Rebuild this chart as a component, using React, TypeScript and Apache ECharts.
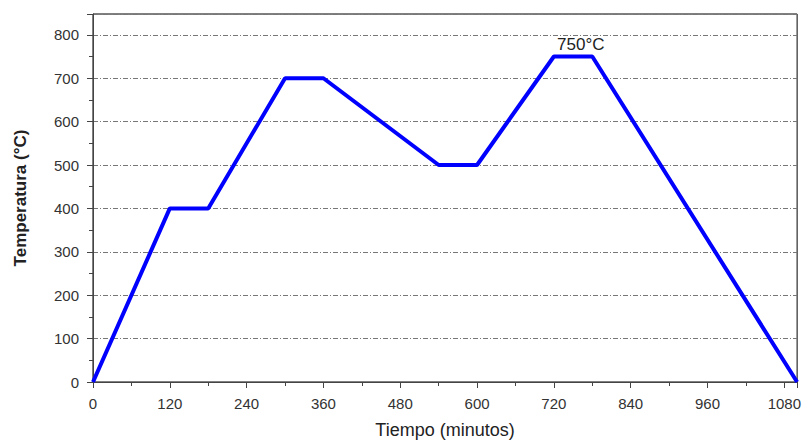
import React, { useEffect, useRef } from "react";
import * as echarts from "echarts";

const timeMinutes = [0, 120, 180, 300, 360, 540, 600, 720, 780, 1100];
const temperatures = [0, 400, 400, 700, 700, 500, 500, 750, 750, 0];
const peakLabel = "750°C";
const peakCoord = [762, 750];

export default function App() {
  const ref = useRef<HTMLDivElement>(null);
  useEffect(() => {
    const chart = echarts.init(ref.current!, null, { renderer: "svg" });
    const font = "'Liberation Sans', Arial, sans-serif";
    chart.setOption({
      animation: false,
      grid: {
        left: 93,
        right: 5,
        top: 14,
        bottom: 61,
        show: true,
        borderColor: "#000",
        borderWidth: 1,
        backgroundColor: "transparent",
      },
      xAxis: {
        type: "value",
        min: 0,
        max: 1100,
        interval: 120,
        name: "Tiempo (minutos)",
        nameLocation: "middle",
        nameGap: 39,
        nameTextStyle: { fontFamily: font, fontSize: 18, color: "#222" },
        axisLine: { onZero: false, lineStyle: { color: "#444", width: 1 } },
        axisTick: { show: true, length: 6, lineStyle: { color: "#444" } },
        minorTick: { show: true, splitNumber: 2, length: 4, lineStyle: { color: "#444" } },
        axisLabel: {
          fontFamily: font,
          fontSize: 15,
          color: "#333",
          margin: 14,
          showMaxLabel: false,
          formatter: (v: number) => String(v),
        },
        splitLine: { show: false },
      },
      yAxis: {
        type: "value",
        min: 0,
        max: 848,
        interval: 100,
        name: "Temperatura (°C)",
        nameLocation: "middle",
        nameGap: 64,
        nameTextStyle: { fontFamily: font, fontSize: 17, fontWeight: "bold", color: "#222" },
        axisLine: { onZero: false, lineStyle: { color: "#444", width: 1 } },
        axisTick: { show: true, length: 6, lineStyle: { color: "#444" } },
        minorTick: { show: true, splitNumber: 2, length: 4, lineStyle: { color: "#444" } },
        axisLabel: {
          fontFamily: font,
          fontSize: 15,
          color: "#333",
          margin: 14,
          showMaxLabel: false,
        },
        splitLine: {
          show: true,
          showMinLine: false,
          lineStyle: { color: "#777", width: 1, type: [5, 2, 1, 2] },
        },
      },
      series: [
        {
          type: "line",
          data: timeMinutes.map((t, i) => [t, temperatures[i]]),
          symbol: "none",
          lineStyle: { color: "#0000ff", width: 4 },
          markPoint: {
            symbol: "circle",
            symbolSize: 0,
            data: [{ coord: peakCoord, value: peakLabel }],
            label: {
              show: true,
              position: "top",
              distance: 4,
              formatter: peakLabel,
              fontFamily: font,
              fontSize: 17,
              color: "#222",
            },
          },
        },
      ],
    });
    return () => chart.dispose();
  }, []);
  return (
    <div
      ref={ref}
      style={{ position: "absolute", left: 0, top: 0, width: 804, height: 444 }}
    />
  );
}
